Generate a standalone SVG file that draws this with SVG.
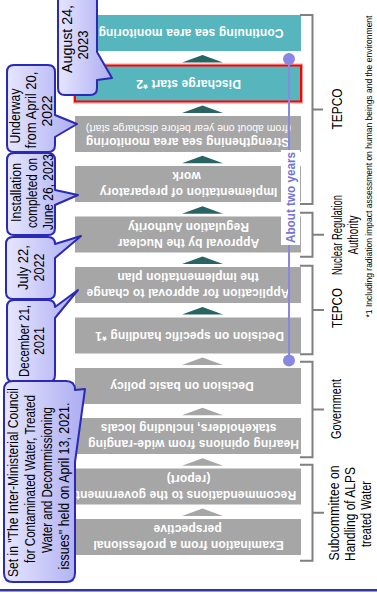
<svg xmlns="http://www.w3.org/2000/svg" width="377" height="594" viewBox="0 0 377 594">
<defs>
<style>
.teal{fill:#56b5bd}
.gray{fill:#a6a6a6}
.tri1{fill:#286464}
.tri2{fill:#a6a6a6}
.bt{font-family:"Liberation Sans",Arial,sans-serif;font-size:12px;font-weight:bold;fill:#fff;text-anchor:middle;letter-spacing:0.15px}
.bs{font-size:10.5px;font-weight:normal;letter-spacing:0}
.ct{font-family:"Liberation Sans",Arial,sans-serif;font-size:14px;fill:#000;text-anchor:middle}
.lb{font-family:"Liberation Sans",Arial,sans-serif;font-size:15px;fill:#000;text-anchor:middle}
.fn{font-family:"Liberation Sans",Arial,sans-serif;font-size:8.5px;fill:#000;text-anchor:middle}
.ab{font-family:"Liberation Sans",Arial,sans-serif;font-size:12.5px;font-weight:bold;fill:#7474d8;text-anchor:middle}
.br{fill:none;stroke:#808080;stroke-width:2}
.co{fill:url(#cg);stroke:#2a2ab4;stroke-width:2;stroke-linejoin:round}
</style>
<linearGradient id="cg" x1="0" y1="0" x2="1" y2="0">
<stop offset="0" stop-color="#e6e6ff"/>
<stop offset="1" stop-color="#acacf2"/>
</linearGradient>
</defs>
<rect width="377" height="594" fill="#fff"/>

<g id="connectors">
<polygon class="tri1" points="182,62.5 202.5,55 223,62.5"/>
<polygon class="tri1" points="182,112.9 202.5,105.4 223,112.9"/>
<polygon class="tri1" points="182,163.3 202.5,155.8 223,163.3"/>
<polygon class="tri1" points="182,213.7 202.5,206.2 223,213.7"/>
<polygon class="tri1" points="182,264.1 202.5,256.6 223,264.1"/>
<polygon class="tri1" points="182,314.5 202.5,307 223,314.5"/>
<polygon class="tri2" points="182,364.9 202.5,357.4 223,364.9"/>
<polygon class="tri2" points="182,415.3 202.5,407.8 223,415.3"/>
<polygon class="tri2" points="182,465.7 202.5,458.2 223,465.7"/>
<polygon class="tri2" points="182,516.1 202.5,508.6 223,516.1"/>
</g>

<g id="box1"><rect class="teal" x="75" y="15" width="226" height="36"/>
<text class="bt" x="191" y="29" transform="rotate(180 191 29)">Continuing sea area monitoring</text></g>
<g id="box2"><rect x="73.5" y="64" width="229" height="39" fill="none" stroke="#ff9a9a" stroke-width="1"/>
<rect class="teal" x="75" y="65.5" width="226" height="36" stroke="#ff0000" stroke-width="2"/>
<text class="bt" x="188.5" y="79.5" transform="rotate(180 188.5 79.5)">Discharge start *2</text></g>
<g id="box3"><rect class="gray" x="75" y="116" width="226" height="36"/>
<text class="bt" x="187.5" y="138" transform="rotate(180 187.5 138)">Strengthening sea area monitoring</text>
<text class="bt bs" x="188.5" y="124.5" transform="rotate(180 188.5 124.5)">(from about one year before discharge start)</text></g>
<g id="box4"><rect class="gray" x="75" y="166" width="226" height="36"/>
<text class="bt" x="188.5" y="188" transform="rotate(180 188.5 188)">Implementation of preparatory</text>
<text class="bt" x="186.5" y="172" transform="rotate(180 186.5 172)">work</text></g>
<g id="box5"><rect class="gray" x="75" y="216.5" width="226" height="36"/>
<text class="bt" x="188.5" y="238.5" transform="rotate(180 188.5 238.5)">Approval by the Nuclear</text>
<text class="bt" x="188.5" y="222.5" transform="rotate(180 188.5 222.5)">Regulation Authority</text></g>
<g id="box6"><rect class="gray" x="75" y="267" width="226" height="36"/>
<text class="bt" x="188" y="289" transform="rotate(180 188 289)">Application for approval to change</text>
<text class="bt" x="188" y="273" transform="rotate(180 188 273)">the implementation plan</text></g>
<g id="box7"><rect class="gray" x="75" y="317.5" width="226" height="36"/>
<text class="bt" x="189.5" y="331.5" transform="rotate(180 189.5 331.5)">Decision on specific handling *1</text></g>
<g id="box8"><rect class="gray" x="75" y="368" width="226" height="36"/>
<text class="bt" x="182" y="382" transform="rotate(180 182 382)">Decision on basic policy</text></g>
<g id="box9"><rect class="gray" x="75" y="418" width="226" height="36"/>
<text class="bt" x="193.5" y="440" transform="rotate(180 193.5 440)">Hearing opinions from wide-ranging</text>
<text class="bt" x="188.5" y="424" transform="rotate(180 188.5 424)">stakeholders, including locals</text></g>
<g id="box10"><rect class="gray" x="75" y="468.5" width="226" height="36"/>
<text class="bt" x="186" y="490.5" transform="rotate(180 186 490.5)">Recommendations to the government</text>
<text class="bt" x="188.5" y="474.5" transform="rotate(180 188.5 474.5)">(report)</text></g>
<g id="box11"><rect class="gray" x="75" y="519" width="226" height="36"/>
<text class="bt" x="188.5" y="541" transform="rotate(180 188.5 541)">Examination from a professional</text>
<text class="bt" x="187.5" y="525" transform="rotate(180 187.5 525)">perspective</text></g>

<g id="span-two-years">
<line x1="289" y1="59" x2="289" y2="360.5" stroke="#8888e2" stroke-width="2"/>
<circle cx="289" cy="59" r="6" fill="#8888e2"/>
<circle cx="289" cy="360.5" r="6" fill="#8888e2"/>
<rect x="281" y="150" width="19" height="95" fill="#fff"/>
<text class="ab" x="295" y="197.5" transform="rotate(-90 295 197.5)" textLength="91" lengthAdjust="spacingAndGlyphs">About two years</text>
</g>

<g id="org-tepco1"><path class="br" d="M300,15 H312.5 V204 H300 M312.5,109.5 H323"/>
<text class="lb" x="341.5" y="109" transform="rotate(-90 341.5 109)" textLength="41" lengthAdjust="spacingAndGlyphs">TEPCO</text></g>
<g id="org-nra"><path class="br" d="M300,212.7 H312.5 V256.7 H300 M312.5,234.7 H324"/>
<text class="lb" x="341.5" y="235" transform="rotate(-90 341.5 235)" textLength="80" lengthAdjust="spacingAndGlyphs">Nuclear Regulation</text>
<text class="lb" x="358" y="235" transform="rotate(-90 358 235)" textLength="39" lengthAdjust="spacingAndGlyphs">Authority</text></g>
<g id="org-tepco2"><path class="br" d="M300,265.7 H312.5 V354.3 H300 M312.5,310 H324"/>
<text class="lb" x="341.5" y="308" transform="rotate(-90 341.5 308)" textLength="40" lengthAdjust="spacingAndGlyphs">TEPCO</text></g>
<g id="org-gov"><path class="br" d="M300,361.7 H312.5 V457.3 H300 M312.5,409.5 H324"/>
<text class="lb" x="340.5" y="409" transform="rotate(-90 340.5 409)" textLength="60" lengthAdjust="spacingAndGlyphs">Government</text></g>
<g id="org-sub"><path class="br" d="M300,464.7 H312.5 V560.7 H300 M312.5,512.7 H324"/>
<text class="lb" x="338.5" y="513" transform="rotate(-90 338.5 513)" textLength="95" lengthAdjust="spacingAndGlyphs">Subcommittee on</text>
<text class="lb" x="354.5" y="514" transform="rotate(-90 354.5 514)" textLength="94" lengthAdjust="spacingAndGlyphs">Handling of ALPS</text>
<text class="lb" x="370.5" y="514" transform="rotate(-90 370.5 514)" textLength="66" lengthAdjust="spacingAndGlyphs">treated Water</text></g>

<g id="footnote">
<text class="fn" x="371.5" y="166.5" transform="rotate(-90 371.5 166.5)">*1 Including radiation impact assessment on human beings and the environment</text>
</g>

<g id="callout-aug">
<path class="co" d="M65,-10 H90 Q97,-10 97,-3 V52 L112,78 L97,80 V88 Q97,95 90,95 H65 Q58,95 58,88 V-3 Q58,-10 65,-10 Z"/>
<text class="ct" x="72" y="39" transform="rotate(-90 72 39)" textLength="68" lengthAdjust="spacingAndGlyphs">August 24,</text>
<text class="ct" x="88" y="45" transform="rotate(-90 88 45)" textLength="29" lengthAdjust="spacingAndGlyphs">2023</text>
</g>
<g id="callout-underway">
<path class="co" d="M14,65 H48 Q55,65 55,72 V115 L77,124 L55,137 V145 Q55,152 48,152 H14 Q7,152 7,145 V72 Q7,65 14,65 Z"/>
<text class="ct" x="20" y="116" transform="rotate(-90 20 116)" textLength="55" lengthAdjust="spacingAndGlyphs">Underway</text>
<text class="ct" x="36" y="110" transform="rotate(-90 36 110)" textLength="77" lengthAdjust="spacingAndGlyphs">from April 20,</text>
<text class="ct" x="52" y="111" transform="rotate(-90 52 111)" textLength="31" lengthAdjust="spacingAndGlyphs">2022</text>
</g>
<g id="callout-install">
<path class="co" d="M14,153 H48 Q55,153 55,160 V190 L78,195 L55,205 V228 Q55,235 48,235 H14 Q7,235 7,228 V160 Q7,153 14,153 Z"/>
<text class="ct" x="20.5" y="192.5" transform="rotate(-90 20.5 192.5)" textLength="59" lengthAdjust="spacingAndGlyphs">Installation</text>
<text class="ct" x="36.5" y="193" transform="rotate(-90 36.5 193)" textLength="70" lengthAdjust="spacingAndGlyphs">completed on</text>
<text class="ct" x="52.5" y="192" transform="rotate(-90 52.5 192)" textLength="76" lengthAdjust="spacingAndGlyphs">June 26, 2023</text>
</g>
<g id="callout-july">
<path class="co" d="M13,237 H48 Q55,237 55,244 L81,236 L55,258 V292 Q55,299 48,299 H13 Q6,299 6,292 V244 Q6,237 13,237 Z"/>
<text class="ct" x="28" y="267.5" transform="rotate(-90 28 267.5)" textLength="45" lengthAdjust="spacingAndGlyphs">July 22,</text>
<text class="ct" x="43.5" y="267.5" transform="rotate(-90 43.5 267.5)" textLength="28" lengthAdjust="spacingAndGlyphs">2022</text>
</g>
<g id="callout-dec">
<path class="co" d="M14,300 H48 Q55,300 55,307 L78,290 L55,318 V375 Q55,382 48,382 H14 Q7,382 7,375 V307 Q7,300 14,300 Z"/>
<text class="ct" x="28.5" y="341" transform="rotate(-90 28.5 341)" textLength="72" lengthAdjust="spacingAndGlyphs">December 21,</text>
<text class="ct" x="43.5" y="341" transform="rotate(-90 43.5 341)" textLength="28" lengthAdjust="spacingAndGlyphs">2021</text>
</g>
<g id="callout-council">
<path class="co" d="M13,381 H66 Q75,381 75,390 L85,389 L75,462 V573 Q75,582 66,582 H13 Q4,582 4,573 V390 Q4,381 13,381 Z"/>
<text class="ct" x="18" y="482.5" transform="rotate(-90 18 482.5)" textLength="189" lengthAdjust="spacingAndGlyphs">Set in "The Inter-Ministerial Council</text>
<text class="ct" x="35" y="479" transform="rotate(-90 35 479)" textLength="168" lengthAdjust="spacingAndGlyphs">for Contaminated Water, Treated</text>
<text class="ct" x="52" y="480" transform="rotate(-90 52 480)" textLength="146" lengthAdjust="spacingAndGlyphs">Water and Decommissioning</text>
<text class="ct" x="69" y="486" transform="rotate(-90 69 486)" textLength="167" lengthAdjust="spacingAndGlyphs">issues" held on April 13, 2021.</text>
</g>

<rect x="0" y="589" width="377" height="2.5" fill="#3434a4"/>
</svg>
